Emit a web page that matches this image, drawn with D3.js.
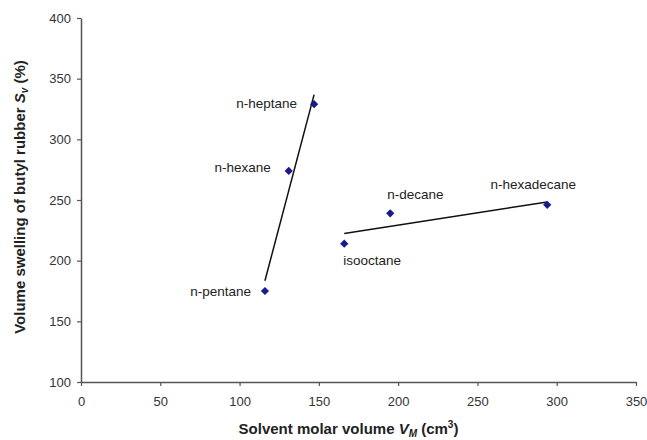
<!DOCTYPE html>
<html>
<head>
<meta charset="utf-8">
<script src="https://cdn.jsdelivr.net/npm/d3@7"></script>
<style>
  body { margin: 0; background: #fff; }
  svg { display: block; font-family: "Liberation Sans", Arial, sans-serif; }
</style>
</head>
<body>
<svg id="chart" width="647" height="440"></svg>
<script>
// solvents, molar volume (cm3) and volume swelling (%)
const solvents = ["n-pentane", "n-hexane", "n-heptane", "isooctane", "n-decane", "n-hexadecane"];
const molarVolume = [116, 131, 147, 166, 195, 294];
const swelling = [175, 274, 329, 214, 239, 246];
// which trend line each solvent belongs to
const group = [0, 0, 0, 1, 1, 1];

const xTicks = [0, 50, 100, 150, 200, 250, 300, 350];
const yTicks = [100, 150, 200, 250, 300, 350, 400];

const margin = {top: 18, right: 11, bottom: 58, left: 81},
    width = 647 - margin.left - margin.right,
    height = 440 - margin.top - margin.bottom;

// label offsets from each marker
const labelPos = {
    "n-pentane":    {dx: -14, dy: 5,   anchor: "end"},
    "n-hexane":     {dx: -18, dy: 1,   anchor: "end"},
    "n-heptane":    {dx: -17, dy: 4,   anchor: "end"},
    "isooctane":    {dx: -1,  dy: 21,  anchor: "start"},
    "n-decane":     {dx: -3,  dy: -14, anchor: "start"},
    "n-hexadecane": {dx: -14, dy: -16, anchor: "middle"}
};

const data = solvents.map((s, i) => ({name: s, x: molarVolume[i], y: swelling[i], g: group[i]}));

const svg = d3.select("#chart");
const g = svg.append("g").attr("transform", `translate(${margin.left},${margin.top})`);

const x = d3.scaleLinear().domain([0, 350]).range([0, width]);
const y = d3.scaleLinear().domain([100, 400]).range([height, 0]);

const axisColor = "#555";

const xAxis = g.append("g")
    .attr("transform", `translate(0,${height})`)
    .call(d3.axisBottom(x).tickValues(xTicks).tickSize(4).tickSizeOuter(0).tickPadding(11));
const yAxis = g.append("g")
    .call(d3.axisLeft(y).tickValues(yTicks).tickSize(4).tickSizeOuter(0).tickPadding(6));

[xAxis, yAxis].forEach(a => {
    a.select(".domain").attr("stroke", axisColor).attr("stroke-width", 1.5);
    a.selectAll(".tick line").attr("stroke", axisColor).attr("stroke-width", 1.2);
    a.selectAll(".tick text").attr("fill", "#333").attr("font-size", 13)
        .attr("font-family", "Liberation Sans, Arial, sans-serif");
});

// linear trend lines, fitted per group
d3.groups(data, d => d.g).forEach(([k, pts]) => {
    const mx = d3.mean(pts, d => d.x), my = d3.mean(pts, d => d.y);
    const slope = d3.sum(pts, d => (d.x - mx) * (d.y - my)) / d3.sum(pts, d => (d.x - mx) ** 2);
    const x0 = d3.min(pts, d => d.x), x1 = d3.max(pts, d => d.x);
    const f = v => my + slope * (v - mx);
    g.append("line")
        .attr("x1", x(x0)).attr("y1", y(f(x0)))
        .attr("x2", x(x1)).attr("y2", y(f(x1)))
        .attr("stroke", "#111").attr("stroke-width", 1.5);
});

// diamond markers
g.selectAll(".pt").data(data).enter().append("path")
    .attr("class", "pt")
    .attr("d", d3.symbol().type(d3.symbolSquare).size(34))
    .attr("transform", d => `translate(${x(d.x)},${y(d.y)}) rotate(45)`)
    .attr("fill", "#1a1a8c");

g.selectAll(".lbl").data(data).enter().append("text")
    .attr("class", "lbl")
    .attr("x", d => x(d.x) + labelPos[d.name].dx)
    .attr("y", d => y(d.y) + labelPos[d.name].dy)
    .attr("text-anchor", d => labelPos[d.name].anchor)
    .attr("font-size", 13.5)
    .attr("fill", "#222")
    .text(d => d.name);

// axis titles
const xt = svg.append("text")
    .attr("x", margin.left + width / 2 - 10).attr("y", 434)
    .attr("text-anchor", "middle")
    .attr("font-size", 15).attr("font-weight", "bold").attr("fill", "#222");
xt.append("tspan").text("Solvent molar volume ");
xt.append("tspan").attr("font-style", "italic").text("V");
xt.append("tspan").attr("font-style", "italic").attr("font-size", 10).attr("dy", 3).text("M");
xt.append("tspan").attr("dy", -3).text(" (cm");
xt.append("tspan").attr("font-size", 10).attr("dy", -6).text("3");
xt.append("tspan").attr("dy", 6).text(")");

const yt = svg.append("text")
    .attr("transform", `translate(25,${margin.top + height / 2 - 3}) rotate(-90)`)
    .attr("text-anchor", "middle")
    .attr("font-size", 15).attr("font-weight", "bold").attr("fill", "#222");
yt.append("tspan").text("Volume swelling of butyl rubber ");
yt.append("tspan").attr("font-style", "italic").text("S");
yt.append("tspan").attr("font-style", "italic").attr("font-size", 10).attr("dy", 3).text("v");
yt.append("tspan").attr("dy", -3).text(" (%)");
</script>
</body>
</html>
